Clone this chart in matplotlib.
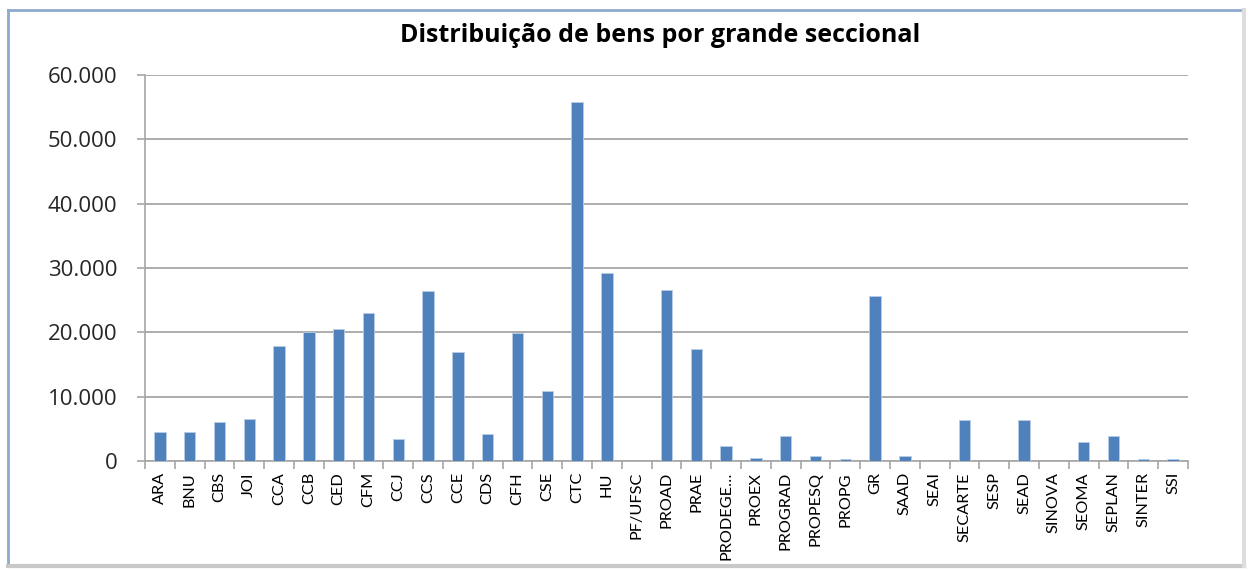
import matplotlib
matplotlib.use("Agg")
import matplotlib.pyplot as plt
from matplotlib.ticker import FuncFormatter, FixedLocator
from matplotlib.lines import Line2D
import numpy as np

categories = ["ARA", "BNU", "CBS", "JOI", "CCA", "CCB", "CED", "CFM", "CCJ", "CCS",
              "CCE", "CDS", "CFH", "CSE", "CTC", "HU", "PF/UFSC", "PROAD", "PRAE",
              "PRODEGE…", "PROEX", "PROGRAD", "PROPESQ", "PROPG", "GR", "SAAD", "SEAI",
              "SECARTE", "SESP", "SEAD", "SINOVA", "SEOMA", "SEPLAN", "SINTER", "SSI"]
values = [4500, 4500, 6000, 6550, 17900, 20000, 20450, 22950, 3450, 26450,
          17000, 4250, 19950, 10850, 55800, 29150, 0, 26650, 17400,
          2350, 450, 3900, 800, 280, 25700, 800, 0,
          6400, 0, 6400, 0, 2950, 3900, 280, 280]
yticks = [0, 10000, 20000, 30000, 40000, 50000, 60000]
title = "Distribuição de bens por grande seccional"

plt.rcParams['font.family'] = ['Lato', 'DejaVu Sans']

W, H = 1248, 571
fig = plt.figure(figsize=(W / 100, H / 100), dpi=100)

# chart frame
fig.add_artist(Line2D([8 / W, 8 / W], [1 - 10 / H, 1 - 566 / H], color="#8DA9CF", lw=2, transform=fig.transFigure))
fig.add_artist(Line2D([8 / W, 1244 / W], [1 - 10 / H, 1 - 10 / H], color="#8DA9CF", lw=2, transform=fig.transFigure))
fig.add_artist(Line2D([8 / W, 1244 / W], [1 - 566 / H, 1 - 566 / H], color="#C8C8C8", lw=3, transform=fig.transFigure))
fig.add_artist(Line2D([1244 / W, 1244 / W], [1 - 10 / H, 1 - 566 / H], color="#DDDDDD", lw=3, transform=fig.transFigure))

ax = fig.add_axes([145 / W, 1 - 461 / H, (1188 - 145) / W, (461 - 75) / H])
x = np.arange(len(categories))
ax.bar(x, values, width=0.38, color="#4F81BD", edgecolor="#B9CDE5", linewidth=0.6, zorder=3)

ax.set_xlim(-0.5, len(categories) - 0.5)
ax.set_ylim(0, 60000)
ax.set_yticks(yticks)
ax.yaxis.set_major_formatter(FuncFormatter(lambda v, p: f"{int(v):,}".replace(",", ".")))
ax.grid(axis="y", color="#A6A6A6", linewidth=1.3, zorder=0)

ax.set_xticks(x)
ax.set_xticklabels(categories, rotation=90, fontsize=11.7)
ax.xaxis.set_minor_locator(FixedLocator(np.arange(-0.5, len(categories), 1.0)))
ax.tick_params(axis="x", which="major", length=0, pad=8)
ax.tick_params(axis="x", which="minor", length=6, color="#A6A6A6", width=1.2)
ax.tick_params(axis="y", length=6, color="#A6A6A6", width=1.2, pad=14, labelcolor="#262626")
for lab in ax.get_yticklabels():
    lab.set_fontfamily(['Open Sans', 'DejaVu Sans'])
    lab.set_fontsize(16)

for s in ["top", "right"]:
    ax.spines[s].set_visible(False)
ax.spines["left"].set_color("#A6A6A6")
ax.spines["bottom"].set_color("#A6A6A6")
ax.spines["left"].set_linewidth(1.2)
ax.spines["bottom"].set_linewidth(1.2)

fig.text(660 / W, 1 - 35 / H, title, ha="center", va="center", fontsize=18, fontweight="bold",
         family=['Open Sans', 'DejaVu Sans'])

fig.savefig("out.png", dpi=100)
